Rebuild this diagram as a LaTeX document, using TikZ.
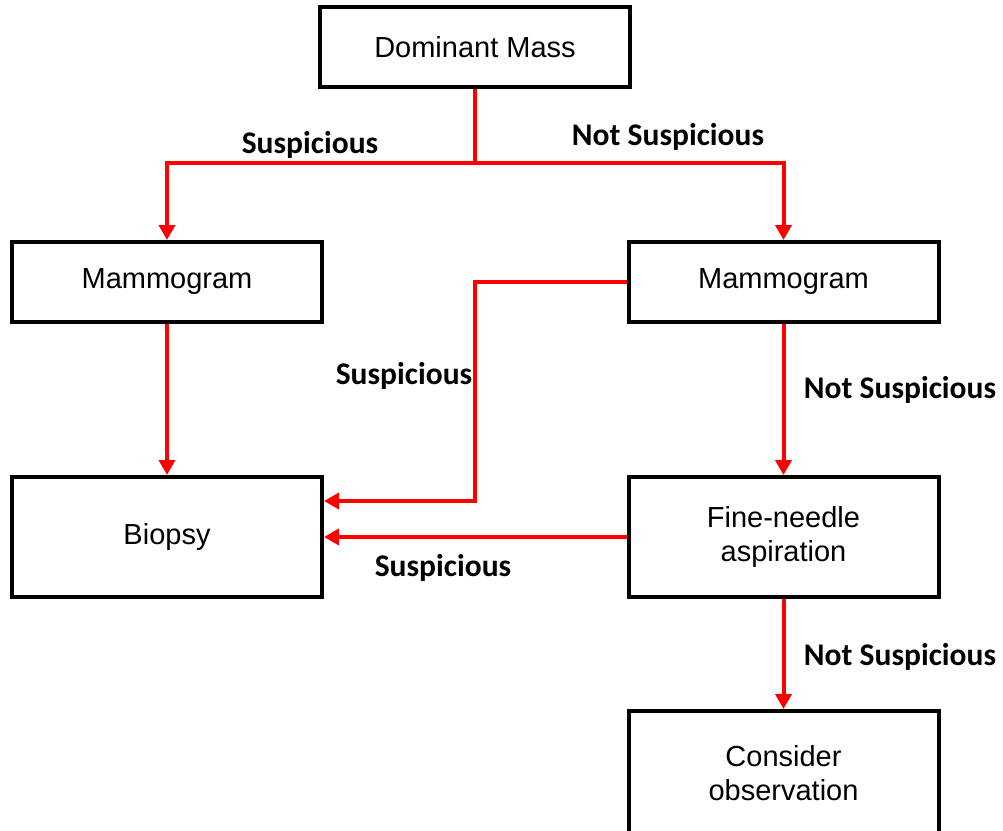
\documentclass[tikz,border=0pt]{standalone}
\usepackage{fontspec}
\setmainfont{Liberation Sans}
\newfontfamily\tagfont{Carlito}
\usetikzlibrary{arrows.meta}
\begin{document}
\begin{tikzpicture}[x=1pt,y=-1pt,
  box/.style={draw,line width=4pt,minimum width=310pt,align=center,
    font=\fontsize{29}{34}\selectfont},
  flow/.style={red,line width=4pt,-{Triangle[length=15pt,width=16pt]}},
  tag/.style={font=\tagfont\bfseries\fontsize{31.5}{36}\selectfont}]
\useasboundingbox (0,0) rectangle (1003,830);
% boxes
\node[box,minimum height=80pt] (dom) at (475,47) {Dominant Mass};
\node[box,minimum height=80pt] (lmam) at (167,282) {Mammogram};
\node[box,minimum height=80pt] (rmam) at (783.5,282) {Mammogram};
\node[box,minimum height=120pt] (biopsy) at (167,537) {Biopsy};
\node[box,minimum height=120pt] (fna) at (783.5,537) {Fine-needle\\aspiration};
\node[box,minimum height=124pt] (obs) at (783.5,773) {Consider\\observation};
% labels
\node[tag] (t1) at (310,145) {Suspicious};
\node[tag] (t2) at (668,137) {Not Suspicious};
\node[tag] (t3) at (404,376) {Suspicious};
\node[tag] (t4) at (900,390) {Not Suspicious};
\node[tag] (t5) at (443,568) {Suspicious};
\node[tag] (t6) at (900,657) {Not Suspicious};
% connectors
\coordinate (split) at (475,163);
\coordinate (bend) at (475,501);
\draw[red,line width=4pt] (dom.south) -- (split);
\draw[flow] (split) -| (lmam.north);
\draw[flow] (split) -| (rmam.north);
\draw[flow] (lmam.south) -- (biopsy.north);
\draw[flow] (rmam.west) -| (bend) -- (biopsy.east |- bend);
\draw[flow] (rmam.south) -- (fna.north);
\draw[flow] (fna.west) -- (biopsy.east);
\draw[flow] (fna.south) -- (obs.north);
\end{tikzpicture}
\end{document}
